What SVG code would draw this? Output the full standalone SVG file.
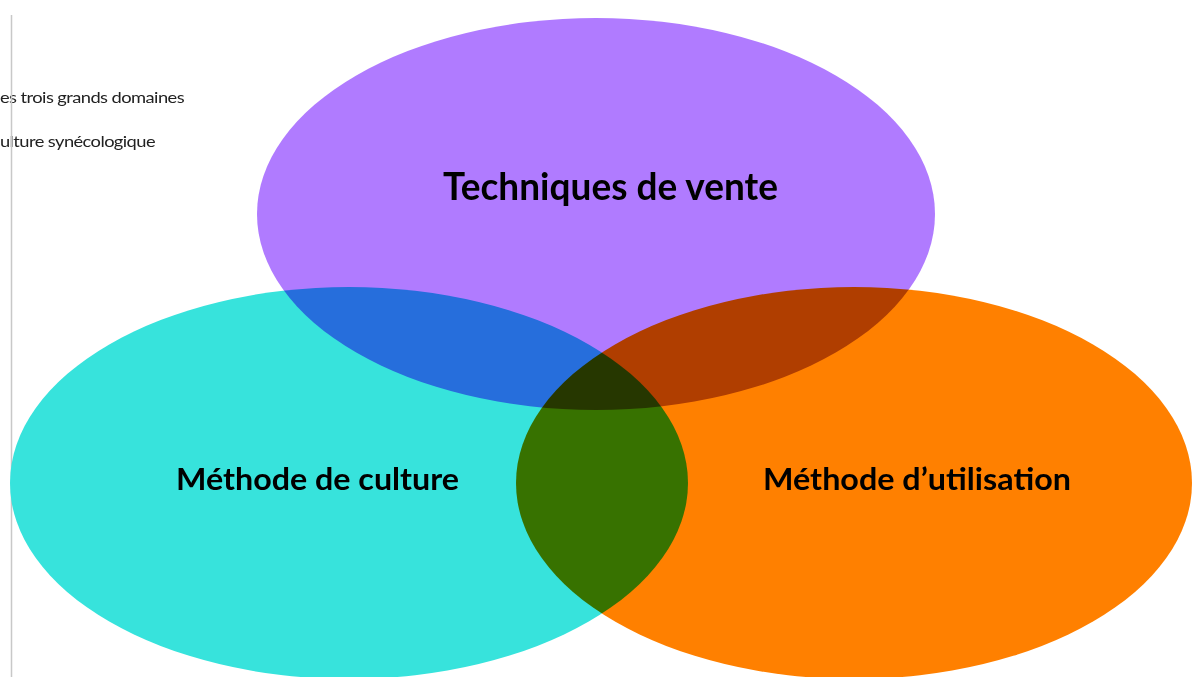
<svg xmlns="http://www.w3.org/2000/svg" width="1192" height="677" viewBox="0 0 1192 677">
<style>
.set{mix-blend-mode:multiply}
.lbl{font-family:Lato,"Open Sans","Liberation Sans",sans-serif;font-weight:700;fill:#000;text-anchor:start}
.side{font-family:Lato,"Open Sans","Liberation Sans",sans-serif;font-size:16px;fill:#222;letter-spacing:-0.5px}
</style>
<rect width="1192" height="677" fill="#fff"/>
<g id="side-text">
<text class="side" x="0" y="103" textLength="184" lengthAdjust="spacingAndGlyphs">es trois grands domaines</text>
<text class="side" x="0" y="147" textLength="155" lengthAdjust="spacingAndGlyphs">ulture synécologique</text>
<line x1="11.5" y1="15" x2="11.5" y2="677" stroke="#c8c8c8" stroke-width="1.5"/>
</g>
<g style="isolation:isolate">
<g id="node-vente"><ellipse class="set" cx="596" cy="214" rx="339" ry="196" fill="#b07bff"/></g>
<g id="node-culture"><ellipse class="set" cx="349" cy="483" rx="339" ry="196" fill="#37e3dc"/></g>
<g id="node-utilisation"><ellipse class="set" cx="854" cy="483" rx="338" ry="196" fill="#ff8000"/></g>
</g>
<g id="labels">
<text class="lbl" x="443" y="199.5" font-size="38" textLength="335" lengthAdjust="spacingAndGlyphs">Techniques de vente</text>
<text class="lbl" x="176" y="490" font-size="31" textLength="283" lengthAdjust="spacingAndGlyphs">Méthode de culture</text>
<text class="lbl" x="763" y="490" font-size="31" textLength="308" lengthAdjust="spacingAndGlyphs">Méthode d’utilisation</text>
</g>
<g id="connectors"/>
</svg>
